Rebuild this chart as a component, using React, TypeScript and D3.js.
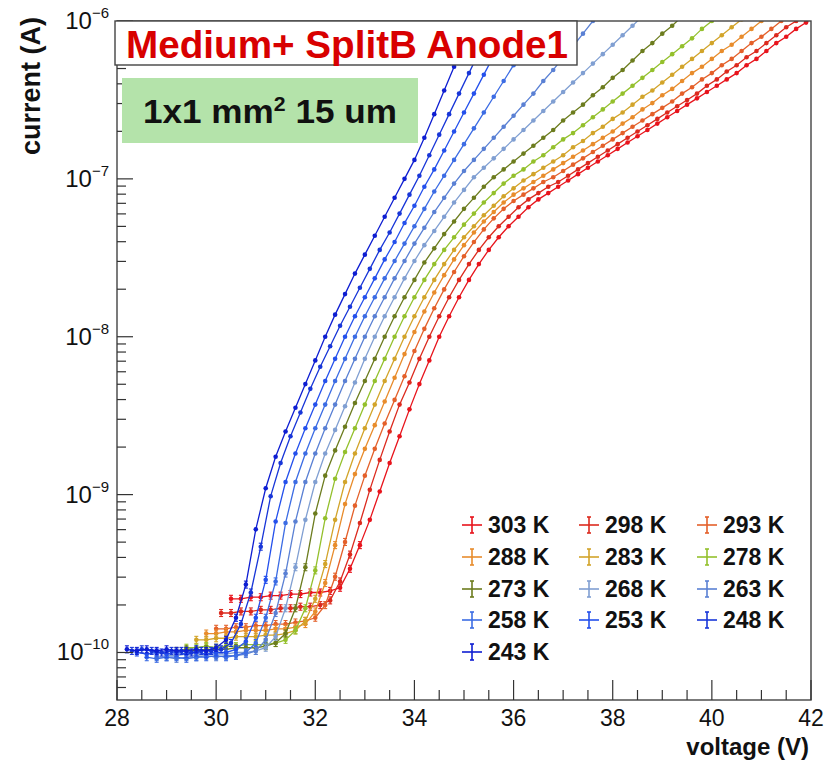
import React from 'react';
import * as d3 from 'd3';

// ---------------- data ----------------
const temperatures = [303, 298, 293, 288, 283, 278, 273, 268, 263, 258, 253, 248, 243];
const scanStartV = [30.3, 30.1, 30.0, 29.8, 29.6, 29.4, 29.2, 29.0, 28.8, 28.6, 28.4, 28.3, 28.2];
const scanStepV = 0.2;

// log10 of current (A), one value per voltage step
const logI303 = [-9.66,-9.66,-9.65,-9.65,-9.64,-9.64,-9.63,-9.63,-9.62,-9.62,-9.61,-9.59,-9.47,-9.32,-9.16,-8.98,-8.80,-8.63,-8.46,-8.30,-8.15,-8.00,-7.87,-7.75,-7.64,-7.54,-7.45,-7.37,-7.30,-7.24,-7.18,-7.13,-7.09,-7.05,-7.01,-6.97,-6.93,-6.89,-6.85,-6.81,-6.77,-6.73,-6.69,-6.65,-6.61,-6.57,-6.53,-6.49,-6.45,-6.41,-6.37,-6.33,-6.28,-6.24,-6.19,-6.14,-6.10,-6.05,-6.01,-5.96];
const logI298 = [-9.75,-9.75,-9.74,-9.74,-9.73,-9.73,-9.72,-9.72,-9.71,-9.71,-9.70,-9.67,-9.55,-9.38,-9.18,-8.97,-8.78,-8.60,-8.43,-8.29,-8.14,-8.00,-7.87,-7.75,-7.64,-7.54,-7.45,-7.37,-7.30,-7.24,-7.18,-7.13,-7.09,-7.05,-7.02,-6.98,-6.94,-6.90,-6.86,-6.82,-6.78,-6.74,-6.70,-6.66,-6.62,-6.58,-6.54,-6.50,-6.46,-6.41,-6.37,-6.32,-6.28,-6.23,-6.19,-6.14,-6.09,-6.04,-6.00,-5.95];
const logI293 = [-9.85,-9.85,-9.84,-9.84,-9.83,-9.83,-9.82,-9.82,-9.81,-9.80,-9.78,-9.70,-9.52,-9.30,-9.07,-8.88,-8.71,-8.55,-8.40,-8.25,-8.09,-7.95,-7.82,-7.70,-7.59,-7.49,-7.40,-7.32,-7.25,-7.19,-7.14,-7.10,-7.06,-7.02,-6.99,-6.95,-6.91,-6.87,-6.83,-6.79,-6.75,-6.71,-6.67,-6.63,-6.59,-6.55,-6.51,-6.46,-6.42,-6.37,-6.33,-6.28,-6.24,-6.19,-6.14,-6.10,-6.05,-6.00,-5.95];
const logI288 = [-9.88,-9.88,-9.87,-9.87,-9.86,-9.86,-9.86,-9.85,-9.85,-9.84,-9.82,-9.74,-9.56,-9.32,-9.06,-8.87,-8.71,-8.56,-8.41,-8.26,-8.11,-7.97,-7.84,-7.72,-7.61,-7.51,-7.42,-7.34,-7.27,-7.21,-7.15,-7.10,-7.06,-7.02,-6.98,-6.94,-6.90,-6.86,-6.82,-6.78,-6.74,-6.70,-6.65,-6.61,-6.56,-6.52,-6.47,-6.43,-6.38,-6.33,-6.29,-6.24,-6.19,-6.15,-6.10,-6.05,-6.00,-5.95];
const logI283 = [-9.92,-9.92,-9.91,-9.91,-9.90,-9.90,-9.90,-9.89,-9.89,-9.88,-9.86,-9.80,-9.66,-9.44,-9.16,-8.92,-8.74,-8.58,-8.43,-8.28,-8.14,-8.00,-7.87,-7.75,-7.64,-7.54,-7.45,-7.37,-7.30,-7.23,-7.17,-7.11,-7.06,-7.01,-6.97,-6.93,-6.89,-6.85,-6.80,-6.76,-6.71,-6.67,-6.62,-6.58,-6.53,-6.48,-6.44,-6.39,-6.34,-6.29,-6.24,-6.19,-6.14,-6.09,-6.04,-5.99];
const logI278 = [-9.97,-9.97,-9.96,-9.97,-9.96,-9.96,-9.95,-9.95,-9.95,-9.94,-9.92,-9.86,-9.72,-9.48,-9.15,-8.90,-8.73,-8.58,-8.43,-8.28,-8.14,-8.00,-7.87,-7.75,-7.64,-7.54,-7.45,-7.37,-7.29,-7.22,-7.15,-7.09,-7.03,-6.98,-6.94,-6.89,-6.85,-6.80,-6.75,-6.71,-6.66,-6.61,-6.56,-6.51,-6.46,-6.41,-6.36,-6.31,-6.26,-6.21,-6.16,-6.11,-6.05,-6.00,-5.95];
const logI273 = [-9.99,-9.98,-9.99,-9.98,-9.98,-9.98,-9.97,-9.97,-9.97,-9.96,-9.94,-9.88,-9.72,-9.46,-9.12,-8.88,-8.72,-8.57,-8.42,-8.28,-8.14,-8.00,-7.87,-7.75,-7.64,-7.53,-7.44,-7.35,-7.27,-7.19,-7.12,-7.05,-6.99,-6.94,-6.89,-6.84,-6.79,-6.74,-6.69,-6.63,-6.58,-6.53,-6.47,-6.42,-6.36,-6.31,-6.25,-6.19,-6.14,-6.08,-6.03,-5.97];
const logI268 = [-10.02,-10.02,-10.01,-10.02,-10.01,-10.01,-10.01,-10.00,-10.00,-9.99,-9.97,-9.90,-9.72,-9.46,-9.16,-8.92,-8.74,-8.59,-8.44,-8.29,-8.14,-8.00,-7.87,-7.75,-7.63,-7.52,-7.42,-7.33,-7.24,-7.15,-7.07,-6.99,-6.93,-6.87,-6.81,-6.75,-6.69,-6.63,-6.57,-6.51,-6.45,-6.39,-6.33,-6.27,-6.21,-6.15,-6.09,-6.03,-5.97];
const logI263 = [-10.03,-10.03,-10.04,-10.03,-10.03,-10.02,-10.03,-10.02,-10.02,-10.01,-9.99,-9.92,-9.75,-9.50,-9.17,-8.92,-8.74,-8.58,-8.43,-8.28,-8.14,-8.00,-7.87,-7.75,-7.63,-7.52,-7.41,-7.31,-7.21,-7.12,-7.03,-6.95,-6.88,-6.81,-6.74,-6.67,-6.60,-6.53,-6.46,-6.38,-6.31,-6.23,-6.16,-6.08,-6.00,-5.92];
const logI258 = [-10.03,-10.04,-10.03,-10.03,-10.04,-10.03,-10.03,-10.02,-10.03,-10.02,-10.00,-9.94,-9.78,-9.55,-9.18,-8.92,-8.74,-8.58,-8.43,-8.28,-8.14,-8.00,-7.87,-7.75,-7.63,-7.52,-7.41,-7.30,-7.19,-7.08,-6.98,-6.88,-6.78,-6.68,-6.58,-6.48,-6.38,-6.28,-6.17,-6.07,-5.96];
const logI253 = [-10.00,-10.01,-10.00,-10.01,-10.00,-10.01,-10.00,-10.01,-10.00,-10.00,-9.98,-9.93,-9.78,-9.54,-9.17,-8.92,-8.74,-8.58,-8.43,-8.28,-8.14,-8.00,-7.87,-7.75,-7.63,-7.51,-7.40,-7.28,-7.17,-7.05,-6.94,-6.82,-6.70,-6.58,-6.46,-6.34,-6.22,-6.10,-5.98];
const logI248 = [-9.99,-9.98,-9.99,-10.00,-9.99,-9.99,-10.00,-9.99,-9.99,-9.98,-9.94,-9.82,-9.62,-9.33,-9.01,-8.80,-8.63,-8.48,-8.33,-8.19,-8.06,-7.93,-7.81,-7.69,-7.57,-7.45,-7.34,-7.22,-7.10,-6.98,-6.85,-6.72,-6.59,-6.46,-6.33,-6.20,-6.07,-5.94];
const logI243 = [-9.98,-9.99,-9.98,-9.99,-9.98,-9.99,-9.99,-9.98,-9.99,-9.97,-9.92,-9.78,-9.57,-9.22,-8.96,-8.76,-8.60,-8.45,-8.30,-8.15,-8.00,-7.86,-7.73,-7.60,-7.48,-7.36,-7.24,-7.12,-7.00,-6.88,-6.74,-6.59,-6.44,-6.29,-6.14,-5.99];

const allLogI = [logI303, logI298, logI293, logI288, logI283, logI278, logI273, logI268, logI263, logI258, logI253, logI248, logI243];

const xTickValues = [28, 30, 32, 34, 36, 38, 40, 42];
const yTickExponents = [-10, -9, -8, -7, -6];

const titleText = 'Medium+ SplitB Anode1';
const noteText = '1x1 mm';
const noteSup = '2';
const noteTail = ' 15 um';
const xTitle = 'voltage (V)';
const yTitle = 'current (A)';

// ---------------- styles ----------------
const seriesColors = ['#e8141c', '#dc2a1e', '#e4602a', '#e88c2c', '#d2a42a', '#94c02c', '#6c7c1e', '#809fd2', '#5a80d4', '#3c6ce4', '#2450ec', '#1836d8', '#0e1ed2'];
const FONT = '"Liberation Sans", Arial, Helvetica, sans-serif';

const W = 828, H = 764;
const F = { left: 117, right: 811, top: 21, bottom: 700 };

export default function App() {
  const x = d3.scaleLinear().domain([28, 42]).range([F.left, F.right]);
  const y = d3.scaleLog().domain([5e-11, 1e-6]).range([F.bottom, F.top]);

  const series = temperatures.map((t, i) => ({
    t,
    color: seriesColors[i],
    pts: allLogI[i].map((l, k) => ({ v: scanStartV[i] + scanStepV * k, c: Math.pow(10, l) })),
  }));

  const line = d3.line<{ v: number; c: number }>().x(d => x(d.v)).y(d => y(d.c));

  const xMinor = d3.range(28, 42.001, 0.5).filter(v => Math.abs(v / 2 - Math.round(v / 2)) > 1e-6);
  const yMinor: number[] = [];
  for (let e = -11; e <= -7; e++) for (let m = 2; m <= 9; m++) {
    const v = m * Math.pow(10, e);
    if (v > 5.01e-11 && v < 1e-6) yMinor.push(v);
  }

  const legendCols = [472, 589, 707];
  const legendRows = [525, 557, 589, 620, 652];

  return (
    <svg width={W} height={H} style={{ position: 'absolute', left: 0, top: 0, background: '#fff' }} fontFamily={FONT}>
      <defs>
        <clipPath id="frameClip">
          <rect x={F.left} y={F.top} width={F.right - F.left} height={F.bottom - F.top} />
        </clipPath>
      </defs>
      <rect x={0} y={0} width={W} height={H} fill="#fff" />

      {/* data */}
      <g clipPath="url(#frameClip)">
        {series.map(s => (
          <g key={s.t}>
            <path d={line(s.pts) || ''} fill="none" stroke={s.color} strokeWidth={1.3} />
            {s.pts.map((p, k) => {
              const px = x(p.v), py = y(p.c);
              const err = p.c < 6e-10;
              return (
                <g key={k}>
                  {err && (
                    <g stroke={s.color} strokeWidth={1.1}>
                      <line x1={px} x2={px} y1={py - 3.5} y2={py + 3.5} />
                      <line x1={px - 2} x2={px + 2} y1={py - 3.5} y2={py - 3.5} />
                      <line x1={px - 2} x2={px + 2} y1={py + 3.5} y2={py + 3.5} />
                    </g>
                  )}
                  <circle cx={px} cy={py} r={2.3} fill={s.color} />
                </g>
              );
            })}
          </g>
        ))}
      </g>

      {/* frame */}
      <rect x={F.left} y={F.top} width={F.right - F.left} height={F.bottom - F.top} fill="none" stroke="#444" strokeWidth={1.4} />

      {/* ticks */}
      <g stroke="#333" strokeWidth={1.2}>
        {xTickValues.map(v => <line key={'xm' + v} x1={x(v)} x2={x(v)} y1={F.bottom} y2={F.bottom - 20} />)}
        {xMinor.map(v => <line key={'xn' + v} x1={x(v)} x2={x(v)} y1={F.bottom} y2={F.bottom - 10} />)}
        {yTickExponents.map(e => <line key={'ym' + e} x1={F.left} x2={F.left + 16} y1={y(Math.pow(10, e))} y2={y(Math.pow(10, e))} />)}
        {yMinor.map(v => <line key={'yn' + v} x1={F.left} x2={F.left + 9} y1={y(v)} y2={y(v)} />)}
      </g>

      {/* x labels */}
      {xTickValues.map(v => (
        <text key={'xl' + v} x={x(v)} y={726} fontSize={23} textAnchor="middle" fill="#111">{v}</text>
      ))}
      {/* y labels */}
      {yTickExponents.map(e => (
        <text key={'yl' + e} x={109} y={y(Math.pow(10, e)) + 8} fontSize={24} textAnchor="end" fill="#111">
          10<tspan dy={-11} fontSize={15}>{'\u2212' + Math.abs(e)}</tspan>
        </text>
      ))}

      {/* axis titles */}
      <text x={F.right - 2} y={755} fontSize={24} fontWeight="bold" textAnchor="end" fill="#111">{xTitle}</text>
      <text transform={`translate(40,${F.top - 4}) rotate(-90)`} fontSize={27} fontWeight="bold" textAnchor="end" fill="#111">{yTitle}</text>

      {/* title box */}
      <rect x={115} y={F.top} width={462} height={44} fill="#fff" stroke="#444" strokeWidth={1.4} />
      <text x={126} y={58} fontSize={38} fontWeight="bold" fill="#d80000" textLength={442} lengthAdjust="spacingAndGlyphs">{titleText}</text>

      {/* annotation */}
      <rect x={122} y={78} width={296} height={65} fill="#b4e3aa" />
      <text x={143} y={123} fontSize={33} fontWeight="bold" fill="#111" textLength={254} lengthAdjust="spacingAndGlyphs">
        {noteText}<tspan dy={-12} fontSize={20}>{noteSup}</tspan><tspan dy={12}>{noteTail}</tspan>
      </text>

      {/* legend */}
      {series.map((s, i) => {
        const cx = legendCols[i % 3];
        const cy = legendRows[Math.floor(i / 3)];
        return (
          <g key={'lg' + s.t}>
            <g stroke={s.color} strokeWidth={1.6}>
              <line x1={cx - 10} x2={cx + 10} y1={cy} y2={cy} />
              <line x1={cx} x2={cx} y1={cy - 8} y2={cy + 8} />
              <line x1={cx - 2} x2={cx + 2} y1={cy - 8} y2={cy - 8} />
              <line x1={cx - 2} x2={cx + 2} y1={cy + 8} y2={cy + 8} />
            </g>
            <text x={cx + 16} y={cy + 8} fontSize={23} fontWeight="bold" fill="#111">{s.t} K</text>
          </g>
        );
      })}
    </svg>
  );
}
